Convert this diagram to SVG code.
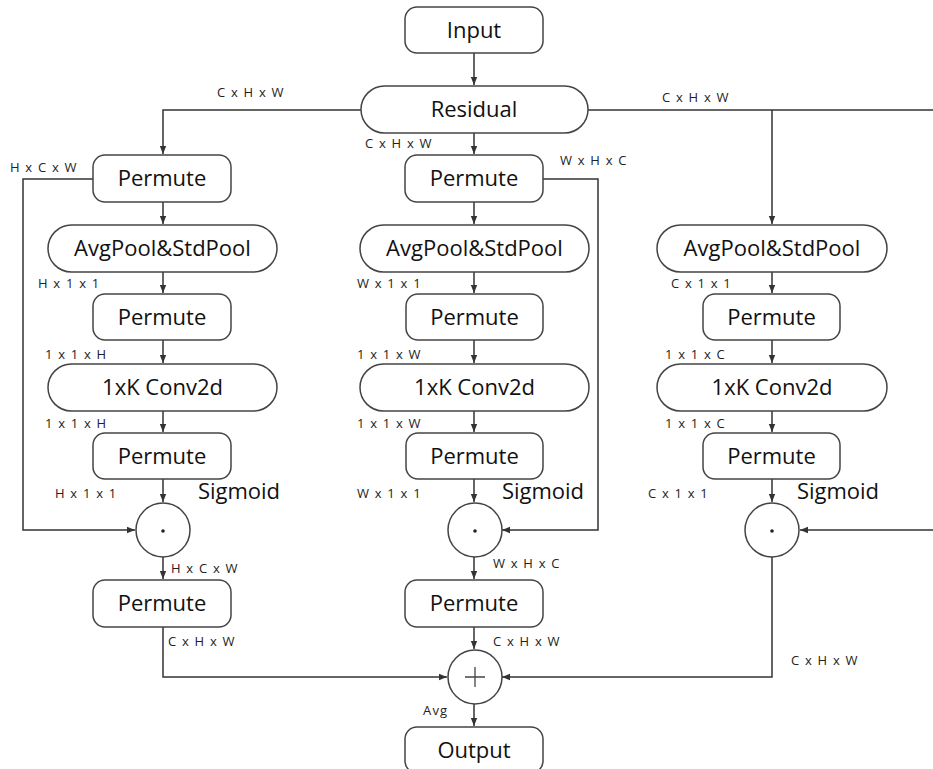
<svg xmlns="http://www.w3.org/2000/svg" width="933" height="769" viewBox="0 0 933 769">
<defs>
<marker id="ah" viewBox="0 0 8 8" refX="8" refY="4" markerWidth="8" markerHeight="8" markerUnits="userSpaceOnUse" orient="auto">
<path d="M0,0.8 L8,4 L0,7.2 Z" fill="#333"/>
</marker>
<style>
.box{fill:#fff;stroke:#444;stroke-width:1.5}
.t{font-family:"Open Sans","Liberation Sans",sans-serif;font-size:22px;fill:#111;text-anchor:middle}
.s{font-family:"Open Sans","Liberation Sans",sans-serif;font-size:13px;fill:#222;letter-spacing:1.2px}
.c{fill:none;stroke:#333;stroke-width:1.5}
.a{marker-end:url(#ah)}
</style>
</defs>
<rect width="933" height="769" fill="#fff"/>
<g id="connectors">
<path class="c a" d="M474,53 V85"/>
<path class="c a" d="M361,110 H163 V154"/>
<path class="c a" d="M474,133 V154"/>
<path class="c" d="M588,110 H933"/>
<path class="c a" d="M772,110 V224"/>
<path class="c a" d="M163,202 V224"/>
<path class="c a" d="M163,272 V293"/>
<path class="c a" d="M163,340 V363"/>
<path class="c a" d="M163,411 V432"/>
<path class="c a" d="M163,479 V502"/>
<path class="c a" d="M163,557 V579"/>
<path class="c a" d="M163,627 V677 H447"/>
<path class="c a" d="M93,179 H23 V530 H135"/>
<path class="c a" d="M474,202 V224"/>
<path class="c a" d="M474,272 V293"/>
<path class="c a" d="M474,340 V363"/>
<path class="c a" d="M474,411 V432"/>
<path class="c a" d="M474,479 V502"/>
<path class="c a" d="M474,557 V579"/>
<path class="c a" d="M474,627 V649"/>
<path class="c a" d="M474,704 V726"/>
<path class="c a" d="M543,179 H598 V530 H502"/>
<path class="c a" d="M772,272 V293"/>
<path class="c a" d="M772,340 V363"/>
<path class="c a" d="M772,411 V432"/>
<path class="c a" d="M772,479 V502"/>
<path class="c a" d="M933,530 H800"/>
<path class="c a" d="M772,557 V677 H502"/>
</g>
<g id="input"><rect class="box" x="405" y="7" width="138" height="46" rx="12"/><text class="t" x="474" y="38">Input</text></g>
<g id="residual"><rect class="box" x="361" y="86" width="227" height="47" rx="23.5"/><text class="t" x="474" y="117">Residual</text></g>

<g id="permute-l1"><rect class="box" x="93" y="155" width="138" height="47" rx="12"/><text class="t" x="162" y="186">Permute</text></g>
<g id="avgpool-l"><rect class="box" x="48" y="225" width="229" height="47" rx="23.5"/><text class="t" x="162.5" y="256">AvgPool&amp;StdPool</text></g>
<g id="permute-l2"><rect class="box" x="93" y="294" width="138" height="46" rx="12"/><text class="t" x="162" y="325">Permute</text></g>
<g id="conv-l"><rect class="box" x="48" y="364" width="229" height="47" rx="23.5"/><text class="t" x="162.5" y="395">1xK Conv2d</text></g>
<g id="permute-l3"><rect class="box" x="93" y="433" width="138" height="46" rx="12"/><text class="t" x="162" y="464">Permute</text></g>
<g id="mul-l"><circle class="box" cx="163" cy="530" r="27"/><circle cx="163" cy="531" r="1.8" fill="#222"/></g>
<g id="permute-l4"><rect class="box" x="93" y="580" width="138" height="47" rx="12"/><text class="t" x="162" y="611">Permute</text></g>

<g id="permute-m1"><rect class="box" x="405" y="155" width="138" height="47" rx="12"/><text class="t" x="474" y="186">Permute</text></g>
<g id="avgpool-m"><rect class="box" x="360" y="225" width="229" height="47" rx="23.5"/><text class="t" x="474.5" y="256">AvgPool&amp;StdPool</text></g>
<g id="permute-m2"><rect class="box" x="406" y="294" width="137" height="46" rx="12"/><text class="t" x="474.5" y="325">Permute</text></g>
<g id="conv-m"><rect class="box" x="360" y="364" width="229" height="47" rx="23.5"/><text class="t" x="474.5" y="395">1xK Conv2d</text></g>
<g id="permute-m3"><rect class="box" x="406" y="433" width="137" height="46" rx="12"/><text class="t" x="474.5" y="464">Permute</text></g>
<g id="mul-m"><circle class="box" cx="475" cy="530" r="27"/><circle cx="475" cy="531" r="1.8" fill="#222"/></g>
<g id="permute-m4"><rect class="box" x="405" y="580" width="138" height="47" rx="12"/><text class="t" x="474" y="611">Permute</text></g>
<g id="add"><circle class="box" cx="475" cy="677" r="27"/><path d="M465,677 H485 M475,667 V687" stroke="#444" stroke-width="1.3"/></g>
<g id="output"><rect class="box" x="405" y="727" width="138" height="46" rx="12"/><text class="t" x="474" y="758">Output</text></g>

<g id="avgpool-r"><rect class="box" x="657" y="225" width="230" height="47" rx="23.5"/><text class="t" x="772" y="256">AvgPool&amp;StdPool</text></g>
<g id="permute-r2"><rect class="box" x="703" y="294" width="137" height="46" rx="12"/><text class="t" x="771.5" y="325">Permute</text></g>
<g id="conv-r"><rect class="box" x="657" y="364" width="230" height="47" rx="23.5"/><text class="t" x="772" y="395">1xK Conv2d</text></g>
<g id="permute-r3"><rect class="box" x="703" y="433" width="137" height="46" rx="12"/><text class="t" x="771.5" y="464">Permute</text></g>
<g id="mul-r"><circle class="box" cx="772" cy="530" r="27"/><circle cx="772" cy="531" r="1.8" fill="#222"/></g>

<g id="labels">
<text class="s" x="217" y="97">C x H x W</text>
<text class="s" x="365" y="148">C x H x W</text>
<text class="s" x="10" y="172">H x C x W</text>
<text class="s" x="560" y="165">W x H x C</text>
<text class="s" x="662" y="102">C x H x W</text>
<text class="s" x="38" y="288">H x 1 x 1</text>
<text class="s" x="45" y="359">1 x 1 x H</text>
<text class="s" x="45" y="428">1 x 1 x H</text>
<text class="s" x="55" y="498">H x 1 x 1</text>
<text class="t" x="239" y="499">Sigmoid</text>
<text class="s" x="357" y="288">W x 1 x 1</text>
<text class="s" x="357" y="359">1 x 1 x W</text>
<text class="s" x="357" y="428">1 x 1 x W</text>
<text class="s" x="357" y="498">W x 1 x 1</text>
<text class="t" x="543" y="499">Sigmoid</text>
<text class="s" x="671" y="288">C x 1 x 1</text>
<text class="s" x="665" y="359">1 x 1 x C</text>
<text class="s" x="665" y="428">1 x 1 x C</text>
<text class="s" x="648" y="498">C x 1 x 1</text>
<text class="t" x="838" y="499">Sigmoid</text>
<text class="s" x="171" y="573">H x C x W</text>
<text class="s" x="493" y="568">W x H x C</text>
<text class="s" x="168" y="646">C x H x W</text>
<text class="s" x="493" y="646">C x H x W</text>
<text class="s" x="791" y="665">C x H x W</text>
<text class="s" x="423" y="715">Avg</text>
</g>
</svg>
